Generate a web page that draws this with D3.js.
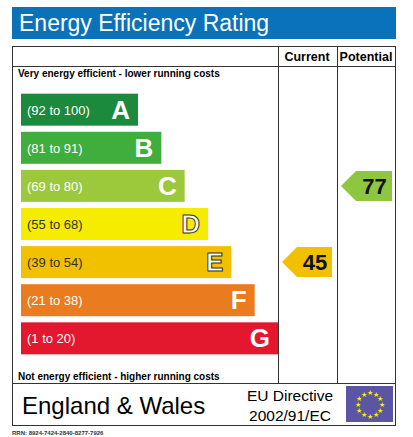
<!DOCTYPE html>
<html lang="en">
<head>
<meta charset="UTF-8">
<title>Energy Efficiency Rating</title>
<style>
  body,html{margin:0;padding:0;border:0;background:#fff;font-family:Arial,"Liberation Sans",sans-serif;}
</style>
</head>
<body>
<svg id="svg" width="413" height="437"></svg>
<script src="https://cdnjs.cloudflare.com/ajax/libs/d3/7.8.5/d3.min.js"></script>
<script>
// ratings
var bands = ["A","B","C","D","E","F","G"];
var ranges = ["(92 to 100)","(81 to 91)","(69 to 80)","(55 to 68)","(39 to 54)","(21 to 38)","(1 to 20)"];
var bandColors = ["#1b8a3c","#3fae3c","#9cc93b","#f5ec00","#f1c100","#ea7b1f","#e3172d"];
var currentRating = {value:45, band:"E", color:"#f1c100"};
var potentialRating = {value:77, band:"C", color:"#8ec63f"};

var svg = d3.select("#svg");

// title bar
svg.append("rect").attr("x",12).attr("y",7).attr("width",384).attr("height",32).attr("fill","#0a71bb");
svg.append("text").attr("x",19).attr("y",31).attr("fill","#fff").attr("font-size",23).text("Energy Efficiency Rating");

// frame
var frame = svg.append("g").attr("fill","none").attr("stroke","#333").attr("stroke-width",1);
frame.append("rect").attr("x",12.5).attr("y",46.5).attr("width",383).attr("height",379);
frame.append("line").attr("x1",12).attr("x2",396).attr("y1",66.5).attr("y2",66.5);
frame.append("line").attr("x1",12).attr("x2",396).attr("y1",383.5).attr("y2",383.5);
frame.append("line").attr("x1",278.5).attr("x2",278.5).attr("y1",46).attr("y2",383);
frame.append("line").attr("x1",337.5).attr("x2",337.5).attr("y1",46).attr("y2",383);

svg.append("text").attr("x",307).attr("y",61).attr("text-anchor","middle").attr("font-weight","bold").attr("font-size",12.5).text("Current");
svg.append("text").attr("x",366).attr("y",61).attr("text-anchor","middle").attr("font-weight","bold").attr("font-size",12.5).text("Potential");
svg.append("text").attr("x",18).attr("y",77).attr("font-weight","bold").attr("font-size",10).text("Very energy efficient - lower running costs");
svg.append("text").attr("x",18).attr("y",380).attr("font-weight","bold").attr("font-size",10).text("Not energy efficient - higher running costs");

// bands
var y = d3.scaleBand().domain(bands).range([91,357]).paddingInner(0.16).paddingOuter(0.07);
var w = d3.scaleLinear().domain([0,6]).range([117,257]);

var g = svg.selectAll("g.band").data(bands).enter().append("g").attr("class","band")
  .attr("transform",function(d){return "translate(21,"+y(d)+")";});
g.append("rect").attr("width",function(d,i){return w(i);}).attr("height",y.bandwidth())
  .attr("fill",function(d,i){return bandColors[i];});
g.append("text").attr("x",6).attr("y",y.bandwidth()/2+5).attr("fill",function(d,i){return (i==3||i==4)?"#333":"#fff";})
  .attr("font-size",13).attr("font-family","'Liberation Sans Narrow',Arial").text(function(d,i){return ranges[i];});
g.append("text").attr("x",function(d,i){return w(i)-8;}).attr("y",y.bandwidth()/2+9).attr("text-anchor","end")
  .attr("fill","#fff").attr("stroke","#333").attr("stroke-width",function(d,i){return (i==3||i==4)?1:0;})
  .attr("font-weight","bold").attr("font-size",26).text(function(d){return d;});

// rating arrows
function arrow(r, x0, x1){
  var cy = y(r.band)+y.bandwidth()/2, h = 15;
  svg.append("path").attr("fill",r.color)
    .attr("d","M"+x0+","+cy+"L"+(x0+15)+","+(cy-h)+"L"+x1+","+(cy-h)+"L"+x1+","+(cy+h)+"L"+(x0+15)+","+(cy+h)+"Z");
  svg.append("text").attr("x",(x0+x1)/2+8).attr("y",cy+8).attr("text-anchor","middle")
    .attr("font-weight","bold").attr("font-size",22).attr("fill","#111").text(r.value);
}
arrow(currentRating,282,332);
arrow(potentialRating,341,392);

// footer
svg.append("text").attr("x",22).attr("y",414).attr("font-size",24).text("England & Wales");
svg.append("text").attr("x",290).attr("y",401).attr("text-anchor","middle").attr("font-size",15.5).text("EU Directive");
svg.append("text").attr("x",290).attr("y",421).attr("text-anchor","middle").attr("font-size",15.5).text("2002/91/EC");
svg.append("rect").attr("x",346).attr("y",386).attr("width",47).attr("height",36).attr("fill","#5b55a3");
var stars = d3.range(12);
svg.selectAll("text.star").data(stars).enter().append("text").attr("class","star")
  .attr("x",function(d){return 369.5+12*Math.sin(d*Math.PI/6);})
  .attr("y",function(d){return 404-12*Math.cos(d*Math.PI/6)+3;})
  .attr("text-anchor","middle").attr("font-size",7).attr("fill","#ffea00").text("★");
svg.append("text").attr("x",12).attr("y",435).attr("font-size",6).attr("font-weight","bold").attr("fill","#333").text("RRN: 8924-7424-2840-8277-7926");
</script>
</body>
</html>
